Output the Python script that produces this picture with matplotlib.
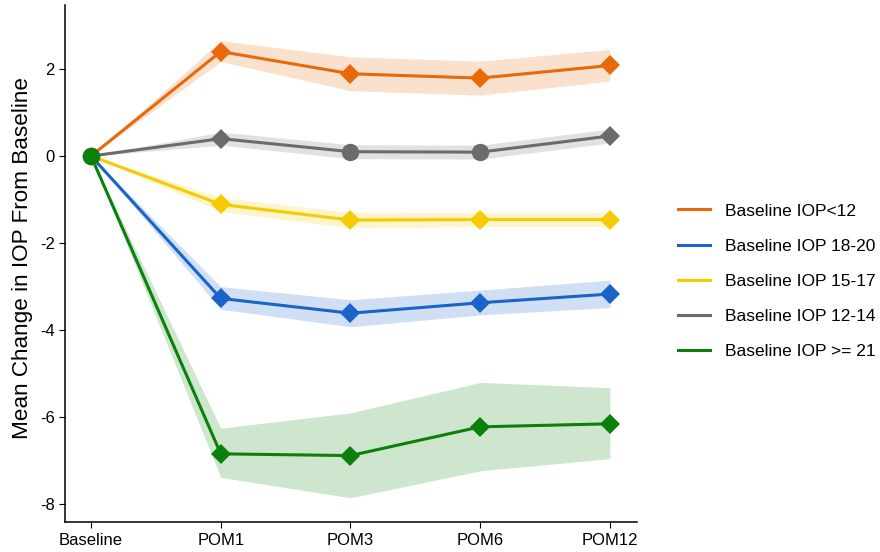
import numpy as np
import matplotlib.pyplot as plt

plt.rcParams['font.family'] = ['Liberation Sans', 'DejaVu Sans']

# --- data ---
visits = ["Baseline", "POM1", "POM3", "POM6", "POM12"]

labels = ["Baseline IOP<12", "Baseline IOP 18-20", "Baseline IOP 15-17",
          "Baseline IOP 12-14", "Baseline IOP >= 21"]
colors = ["#E8690A", "#1A63C8", "#F5CC00", "#6B6B6B", "#0B800B"]

mean_lt12 = [0, 2.40, 1.89, 1.79, 2.08]
mean_18_20 = [0, -3.27, -3.61, -3.37, -3.17]
mean_15_17 = [0, -1.11, -1.47, -1.46, -1.46]
mean_12_14 = [0, 0.40, 0.10, 0.09, 0.46]
mean_ge21 = [0, -6.84, -6.88, -6.22, -6.15]

lo_lt12 = [0, 2.17, 1.50, 1.40, 1.72]
hi_lt12 = [0, 2.65, 2.28, 2.18, 2.45]
lo_18_20 = [0, -3.52, -3.92, -3.65, -3.48]
hi_18_20 = [0, -3.00, -3.30, -3.08, -2.85]
lo_15_17 = [0, -1.27, -1.65, -1.62, -1.62]
hi_15_17 = [0, -0.95, -1.29, -1.30, -1.30]
lo_12_14 = [0, 0.25, -0.06, -0.07, 0.30]
hi_12_14 = [0, 0.55, 0.26, 0.25, 0.62]
lo_ge21 = [0, -7.38, -7.85, -7.23, -6.95]
hi_ge21 = [0, -6.25, -5.90, -5.20, -5.32]

# circle = baseline / non-significant, diamond = significant
marks_lt12 = ["o", "D", "D", "D", "D"]
marks_18_20 = ["o", "D", "D", "D", "D"]
marks_15_17 = ["o", "D", "D", "D", "D"]
marks_12_14 = ["o", "D", "o", "o", "D"]
marks_ge21 = ["o", "D", "D", "D", "D"]

series = [
    (mean_lt12, lo_lt12, hi_lt12, marks_lt12),
    (mean_18_20, lo_18_20, hi_18_20, marks_18_20),
    (mean_15_17, lo_15_17, hi_15_17, marks_15_17),
    (mean_12_14, lo_12_14, hi_12_14, marks_12_14),
    (mean_ge21, lo_ge21, hi_ge21, marks_ge21),
]

fig = plt.figure(figsize=(8.8, 5.52), dpi=100)
ax = fig.add_axes([0.074, 0.054, 0.650, 0.937])

x = np.arange(len(visits))
for (m, lo, hi, mk), c, lab in zip(series, colors, labels):
    ax.fill_between(x, lo, hi, color=c, alpha=0.2, linewidth=0)
    ax.plot(x, m, color=c, lw=2.2, label=lab, zorder=3)
    for xi, yi, s in zip(x, m, mk):
        ax.plot(xi, yi, marker=s, color=c, ms=10.5 if s == "D" else 12.5,
                markeredgewidth=0, linestyle="none", zorder=4)

ax.set_xlim(-0.2, 4.21)
ax.set_ylim(-8.41, 3.47)
ax.set_xticks(x)
ax.set_xticklabels(visits)
ax.set_yticks([-8, -6, -4, -2, 0, 2])
ax.set_yticklabels(["-8", "-6", "-4", "-2", "0", "2"])
ax.tick_params(direction="out", length=4, labelsize=12, colors="black")
for sp in ["top", "right"]:
    ax.spines[sp].set_visible(False)
for sp in ["left", "bottom"]:
    ax.spines[sp].set_linewidth(1.1)
ax.set_ylabel("Mean Change in IOP From Baseline", fontsize=16.2)
ax.yaxis.set_label_coords(-0.056, 0.51)

ax.legend(loc="center left", bbox_to_anchor=(1.045, 0.466), frameon=False,
          fontsize=12.5, handlelength=1.8, labelspacing=1.15, handletextpad=0.9)

fig.savefig("out.png", dpi=100)
